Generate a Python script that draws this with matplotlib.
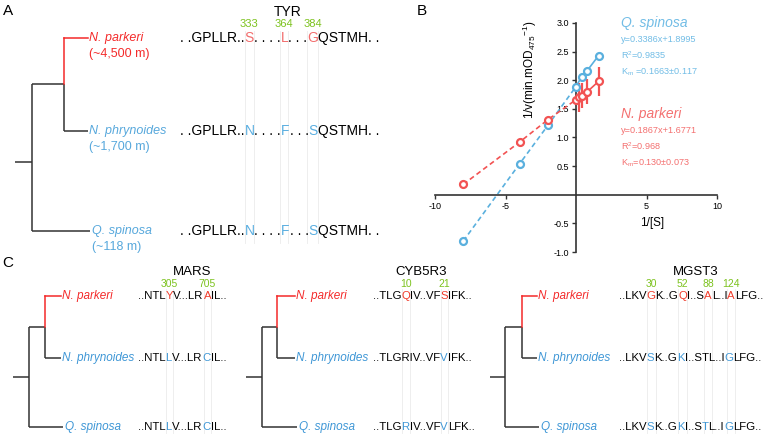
import re
import matplotlib
matplotlib.use('Agg')
import matplotlib.pyplot as plt
from matplotlib.ticker import FormatStrFormatter

plt.rcParams['font.family'] = ['Liberation Sans', 'DejaVu Sans']
plt.rcParams['axes.unicode_minus'] = False
plt.rcParams['mathtext.fontset'] = 'custom'
plt.rcParams['mathtext.rm'] = 'Liberation Sans'
plt.rcParams['mathtext.it'] = 'Liberation Sans:italic'

# ---- data ----
species = ['N. parkeri', 'N. phrynoides', 'Q. spinosa']
altitudes = ['(~4,500 m)', '(~1,700 m)', '(~118 m)']

# TYR alignment, [x] marks a substituted residue
tyr_seqs = ['. .GPLLR..[S]. . . .[L]. . .[G]QSTMH. .',
            '. .GPLLR..[N]. . . .[F]. . .[S]QSTMH. .',
            '. .GPLLR..[N]. . . .[F]. . .[S]QSTMH. .']
tyr_sites = ['333', '364', '384']

mars_seqs = ['..NTL[Y]V...LR[A]IL..',
             '..NTL[L]V...LR[C]IL..',
             '..NTL[L]V...LR[C]IL..']
mars_sites = ['305', '705']

cyb_seqs = ['..TLG[Q]IV..VF[S]IFK..',
            '..TLGRIV..VF[V]IFK..',
            '..TLG[R]IV..VF[V]LFK..']
cyb_sites = ['10', '21']

mgst_seqs = ['..LKV[G]K..G[Q]I..S[A]L..I[A]LFG..',
             '..LKV[S]K..G[K]I..STL..I[G]LFG..',
             '..LKV[S]K..G[K]I..S[T]L..I[G]LFG..']
mgst_sites = ['30', '52', '88', '124']

# Lineweaver-Burk plot (1/[S] vs 1/v)
spinosa_x = [-8, -4, -2, 0, 0.4, 0.8, 1.6]
spinosa_y = [-0.81, 0.54, 1.21, 1.89, 2.06, 2.17, 2.43]
parkeri_x = [-8, -4, -2, 0, 0.2, 0.4, 0.8, 1.6]
parkeri_y = [0.18, 0.92, 1.31, 1.66, 1.70, 1.73, 1.80, 1.98]
parkeri_err = [0, 0, 0, 0.04, 0.26, 0.22, 0.22, 0.26]

spinosa_fit = ['y=0.3386x+1.8995', 'R$^2$=0.9835', 'K$_{\\rm m}$ =0.1663\u00b10.117']
parkeri_fit = ['y=0.1867x+1.6771', 'R$^2$=0.968', 'K$_{\\rm m}$=0.130\u00b10.073']

# ---- colours ----
RED = '#f42a2a'
BLUE = '#57a8dc'
GREEN = '#7cc21e'
DARK = '#333333'
TYR_RED = '#f26d6d'
TYR_BLUE = '#5aaee0'
C_RED = '#f03c2c'
C_BLUE = '#3f97d6'
B_BLUE = '#5ab0de'
B_RED = '#f25252'
B_BLUE_TXT = '#72bde6'
B_RED_TXT = '#f47070'

W, H = 766, 436
fig = plt.figure(figsize=(W / 100, H / 100), dpi=100)
bg = fig.add_axes([0, 0, 1, 1])
bg.set_xlim(0, W)
bg.set_ylim(H, 0)
bg.axis('off')


def draw_tree(ax, x0, x_root, x_inner, x_end, ys, y_root=None, lw=1.1):
    y_top, y_mid, y_bot = ys
    y_node = (y_top + y_mid) / 2
    if y_root is None:
        y_root = (y_node + y_bot) / 2
    kw = dict(color=DARK, lw=lw, solid_capstyle='butt')
    ax.plot([x0, x_root], [y_root, y_root], **kw)
    ax.plot([x_root, x_root], [y_node, y_bot], **kw)
    ax.plot([x_root, x_inner], [y_node, y_node], **kw)
    ax.plot([x_root, x_end + 2], [y_bot, y_bot], **kw)
    ax.plot([x_inner, x_inner], [y_node, y_mid], **kw)
    ax.plot([x_inner, x_end], [y_mid, y_mid], **kw)
    # branch leading to the high-altitude species
    ax.plot([x_inner, x_inner], [y_top, y_node], color=RED, lw=lw)
    ax.plot([x_inner, x_end], [y_top, y_top], color=RED, lw=lw)


def draw_seq(ax, x, y, s, hi_color, size):
    pieces = [p for p in re.split(r'(\[.\])', s) if p]
    hits = []
    prev = None
    for p in pieces:
        hi = p.startswith('[')
        txt = p.strip('[]')
        color = hi_color if hi else 'black'
        if prev is None:
            t = ax.text(x, y, txt, fontsize=size, color=color, va='center', ha='left')
        else:
            t = ax.annotate(txt, xy=(1, 0.5), xycoords=prev, fontsize=size,
                            color=color, va='center', ha='left')
        if hi:
            hits.append(t)
        prev = t
    return hits


def draw_block(ax, x, ys, seqs, sites, red, blue, size, site_size, site_y):
    rows = []
    for i, s in enumerate(seqs):
        rows.append(draw_seq(ax, x, ys[i], s, red if i == 0 else blue, size))
    for t, lab in zip(rows[0], sites):
        ax.annotate(lab, xy=(0.5, site_y), xycoords=(t, 'data'), ha='center',
                    va='center', fontsize=site_size, color=GREEN)
    return rows[0]


# ---- panel A ----
bg.text(8, 11, 'A', fontsize=11, ha='center', va='center')
ysA = [38, 131, 231]
draw_tree(bg, 15, 32, 64, 88, ysA, y_root=162)
for i, (sp, alt) in enumerate(zip(species, altitudes)):
    c = RED if i == 0 else BLUE
    xl = 89 if i < 2 else 92
    bg.text(xl, ysA[i], sp, fontsize=9, style='italic', color=c, va='center')
    bg.text(xl, ysA[i] + 15.5, alt, fontsize=9, color=c, va='center')
bg.text(288, 12, 'TYR', fontsize=10, ha='center', va='center')
tyr_hits = draw_block(bg, 180, ysA, tyr_seqs, tyr_sites, TYR_RED, TYR_BLUE, 10, 8, 24)

# ---- panel C ----
bg.text(8, 263, 'C', fontsize=11, ha='center', va='center')
ysC = [296, 358, 427]
trees_C = [(13, 29, 45, 61), (246, 262, 277, 295), (490, 505, 522, 537)]
seq_x = [138, 373, 619]
titles = [('MARS', 192), ('CYB5R3', 421), ('MGST3', 696)]
blocks = [(mars_seqs, mars_sites), (cyb_seqs, cyb_sites), (mgst_seqs, mgst_sites)]
c_hits = []
for k in range(3):
    x0, xr, xi, xe = trees_C[k]
    draw_tree(bg, x0, xr, xi, xe, ysC)
    for i, sp in enumerate(species):
        bg.text(xe + 1 if i < 2 else xe + 4, ysC[i], sp, fontsize=8.5, style='italic',
                color=RED if i == 0 else C_BLUE, va='center')
    bg.text(titles[k][1], 272, titles[k][0], fontsize=9.5, ha='center', va='center')
    seqs, sites = blocks[k]
    c_hits.append(draw_block(bg, seq_x[k], ysC, seqs, sites, C_RED, C_BLUE,
                             8.2, 7.5, 284))

# ---- panel B ----
axB = fig.add_axes([435 / W, 1 - 252 / H, 282 / W, 229 / H])
axB.patch.set_visible(False)
axB.set_xlim(-10, 10)
axB.set_ylim(-1, 3)
axB.spines['left'].set_position(('data', 0))
axB.spines['bottom'].set_position(('data', 0))
axB.spines[['top', 'right']].set_visible(False)
for sp in ('left', 'bottom'):
    axB.spines[sp].set_linewidth(1.2)
    axB.spines[sp].set_color(DARK)
axB.set_xticks([-10, -5, 5, 10])
axB.set_yticks([-1, -0.5, 0.5, 1, 1.5, 2, 2.5, 3])
axB.yaxis.set_major_formatter(FormatStrFormatter('%.1f'))
axB.tick_params(length=3, width=1, color=DARK, labelsize=6.5, pad=2)

for xs, ys, col in [(spinosa_x, spinosa_y, B_BLUE), (parkeri_x, parkeri_y, B_RED)]:
    neg = [(a, b) for a, b in zip(xs, ys) if a <= 0]
    pos = [(a, b) for a, b in zip(xs, ys) if a >= 0]
    axB.plot([p[0] for p in neg], [p[1] for p in neg], color=col, lw=1.2,
             linestyle=(0, (3, 2)), zorder=2)
    axB.plot([p[0] for p in pos], [p[1] for p in pos], color=col, lw=1.2, zorder=2)
axB.errorbar(parkeri_x, parkeri_y, yerr=parkeri_err, fmt='none', ecolor=B_RED,
             elinewidth=1.6, capsize=0, zorder=2.5)
axB.plot(spinosa_x, spinosa_y, 'o', ms=5, mfc='white', mec=B_BLUE, mew=1.6, zorder=3)
axB.plot(parkeri_x, parkeri_y, 'o', ms=5, mfc='white', mec=B_RED, mew=1.6, zorder=3)

axB.text(0.335, 0.795, '1/v(min.mOD$_{475}$$^{-1}$)', transform=axB.transAxes,
         rotation=90, ha='center', va='center', fontsize=8.5)
axB.text(0.77, 0.127, '1/[S]', transform=axB.transAxes, ha='center', va='center',
         fontsize=8.5)

bg.text(422, 11, 'B', fontsize=11, ha='center', va='center')
bg.text(621, 23, species[2], fontsize=10, style='italic', color=B_BLUE_TXT, va='center')
for j, line in enumerate(spinosa_fit):
    bg.text(621, 39 + 16.5 * j, line, fontsize=6.6, color=B_BLUE_TXT, va='center')
bg.text(621, 114, species[0], fontsize=10, style='italic', color=B_RED_TXT, va='center')
for j, line in enumerate(parkeri_fit):
    bg.text(621, 130 + 16.5 * j, line, fontsize=6.6, color=B_RED_TXT, va='center')

# faint guide lines around the substituted columns
fig.canvas.draw()
inv = bg.transData.inverted()


def guide_lines(hits, y0, y1):
    for t in hits:
        bb = t.get_window_extent()
        for xd in (bb.x0, bb.x1):
            xp = inv.transform((xd, 0))[0]
            bg.plot([xp, xp], [y0, y1], color='#ebebeb', lw=0.6, zorder=0)


guide_lines(tyr_hits, 31, 243)
for hits in c_hits:
    guide_lines(hits, 289, 433)

fig.savefig('out.png', dpi=100)
